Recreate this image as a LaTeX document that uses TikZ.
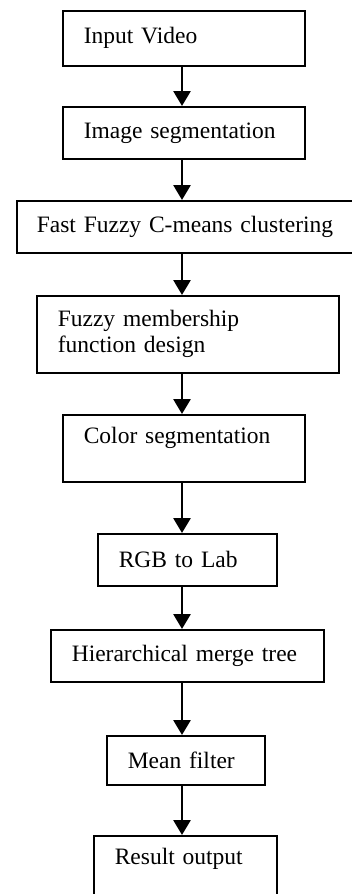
\documentclass[tikz,border=0pt]{standalone}
\usepackage{fontspec}
\setmainfont{Liberation Serif}
\usetikzlibrary{arrows.meta}

\begin{document}
\begin{tikzpicture}[x=1pt, y=-1pt,
    box/.style={draw, line width=1.6pt, anchor=north west, align=left,
      inner xsep=21pt, inner ysep=0pt, font=\fontsize{23.5}{26}\selectfont},
    arr/.style={line width=2.8pt, -{Triangle[length=15pt, width=17pt]}}]
    \useasboundingbox (0,0) rectangle (352,894);
    % First, locate each of the boxes and name them
    \node[box, text width=200pt, minimum height=55pt] (input) at (62,10) {Input Video};
    \node[box, text width=200pt, minimum height=52pt] (imgseg) at (62,106) {Image segmentation};
    \node[box, inner xsep=20pt, text width=304pt, minimum height=52pt] (ffcm) at (16,200) {Fast Fuzzy C-means clustering};
    \node[box, text width=260pt, minimum height=77pt] (fuzzymf) at (36,295) {Fuzzy membership\\function design};
    \node[box, text width=200pt, minimum height=67pt] (colseg) at (62,414) {Color segmentation\\\mbox{}};
    \node[box, text width=137pt, minimum height=52pt] (rgblab) at (97,533) {RGB to Lab};
    \node[box, text width=231pt, minimum height=52pt] (hmt) at (50,629) {Hierarchical merge tree};
    \node[box, text width=116pt, minimum height=49pt] (meanf) at (106,735) {Mean filter};
    \node[box, text width=141pt, minimum height=67pt] (result) at (93,835) {Result output\\\mbox{}};
    % Now draw the arrows down the middle
    \coordinate (axis) at (182,0);
    \draw[arr] (input.south -| axis) -- (imgseg.north -| axis);
    \draw[arr] (imgseg.south -| axis) -- (ffcm.north -| axis);
    \draw[arr] (ffcm.south -| axis) -- (fuzzymf.north -| axis);
    \draw[arr] (fuzzymf.south -| axis) -- (colseg.north -| axis);
    \draw[arr] (colseg.south -| axis) -- (rgblab.north -| axis);
    \draw[arr] (rgblab.south -| axis) -- (hmt.north -| axis);
    \draw[arr] (hmt.south -| axis) -- (meanf.north -| axis);
    \draw[arr] (meanf.south -| axis) -- (result.north -| axis);
\end{tikzpicture}
\end{document}
